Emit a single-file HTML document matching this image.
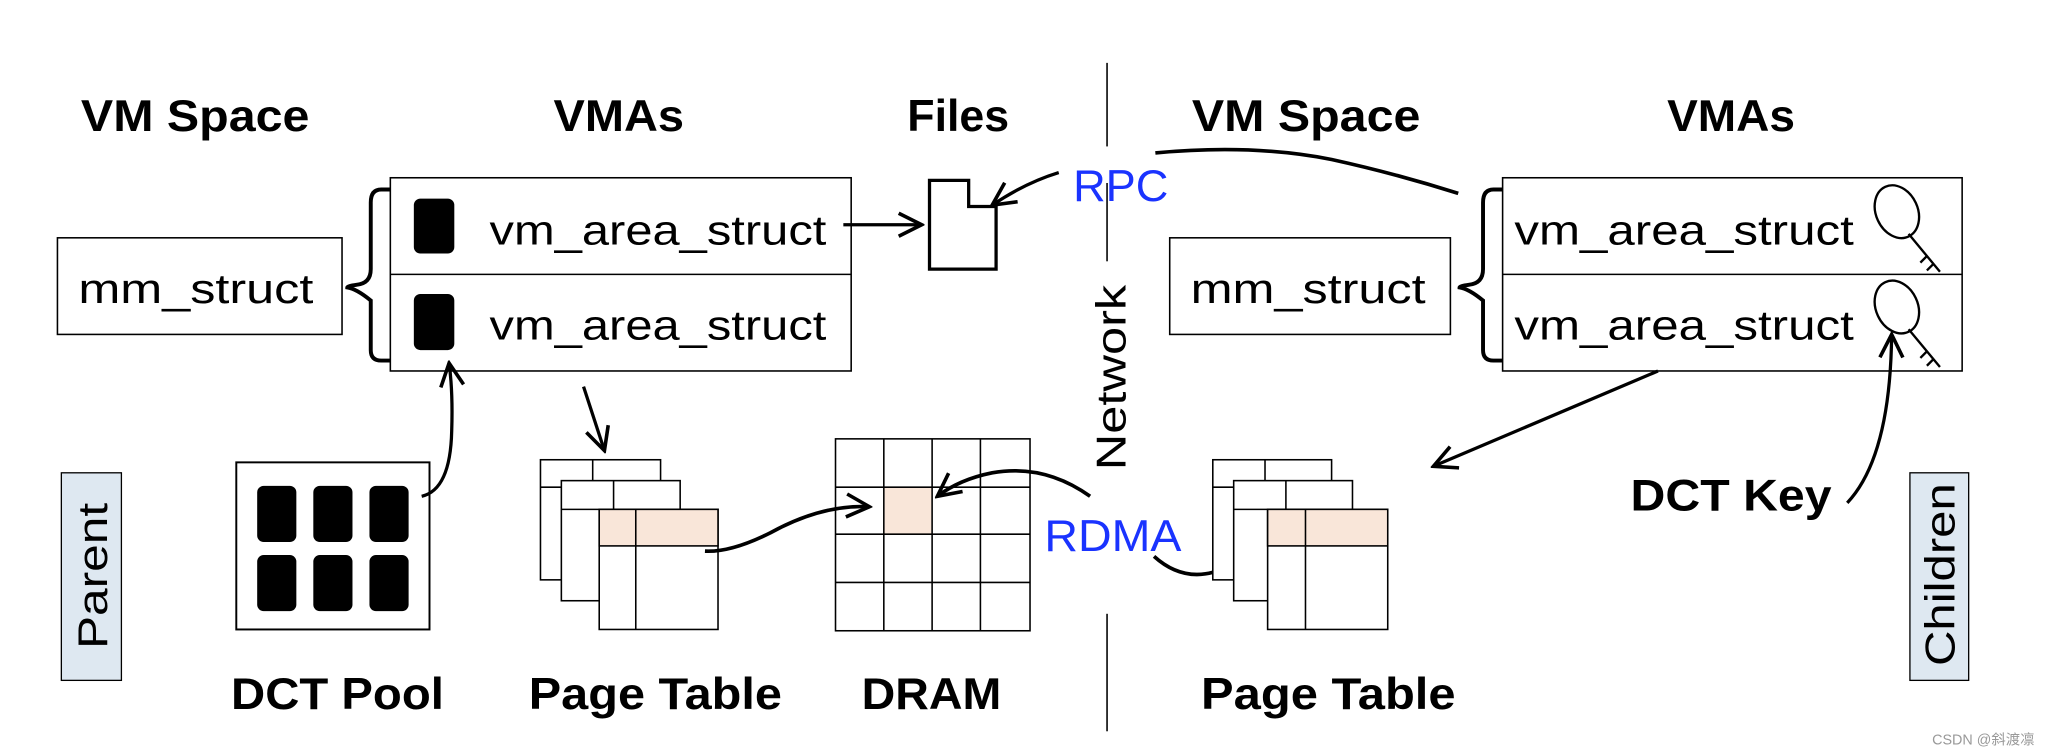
<!DOCTYPE html>
<html><head><meta charset="utf-8"><style>
html,body{margin:0;padding:0;background:#fff;}
svg{display:block;}
text{font-family:"Liberation Sans",sans-serif;}
</style></head><body>
<svg width="2047" height="755" viewBox="0 0 1568 578" xmlns="http://www.w3.org/2000/svg">
<defs>
<marker id="a" viewBox="0 0 20 20" refX="18" refY="10" markerWidth="22" markerHeight="22" markerUnits="userSpaceOnUse" orient="auto">
<path d="M2,2 L18,10 L2,18" fill="none" stroke="#000" stroke-width="2.5"/>
</marker>
</defs>
<g fill="#000" font-size="34" font-weight="bold">
<text x="62" y="100" textLength="175" lengthAdjust="spacingAndGlyphs">VM Space</text>
<text x="424" y="100" textLength="100" lengthAdjust="spacingAndGlyphs">VMAs</text>
<text x="695" y="100" textLength="78" lengthAdjust="spacingAndGlyphs">Files</text>
<text x="913" y="100" textLength="175" lengthAdjust="spacingAndGlyphs">VM Space</text>
<text x="1277" y="100" textLength="98" lengthAdjust="spacingAndGlyphs">VMAs</text>
<text x="177" y="543" textLength="163" lengthAdjust="spacingAndGlyphs">DCT Pool</text>
<text x="405" y="543" textLength="194" lengthAdjust="spacingAndGlyphs">Page Table</text>
<text x="660" y="543" textLength="107" lengthAdjust="spacingAndGlyphs">DRAM</text>
<text x="920" y="543" textLength="195" lengthAdjust="spacingAndGlyphs">Page Table</text>
<text x="1249" y="391" textLength="154" lengthAdjust="spacingAndGlyphs">DCT Key</text>
</g>
<g stroke="#000" stroke-width="1.2">
<line x1="848" y1="48" x2="848" y2="112"/>
<line x1="848" y1="140" x2="848" y2="200"/>
<line x1="848" y1="470" x2="848" y2="560"/>
</g>
<text transform="translate(862,360) rotate(-90)" font-size="32" textLength="142" lengthAdjust="spacingAndGlyphs">Network</text>
<rect x="44" y="182" width="218" height="74" fill="#fff" stroke="#000" stroke-width="1.2"/>
<text x="60" y="232" font-size="32" textLength="180" lengthAdjust="spacingAndGlyphs">mm_struct</text>
<path d="M299,145 H292 Q284,145 284,155 V206 Q284,217 273,218 Q266,219 266,220 Q273,221 284,230 V268 Q284,276 292,276 H299" fill="none" stroke="#000" stroke-width="3"/>
<rect x="299" y="136" width="353" height="148" fill="#fff" stroke="#000" stroke-width="1.2"/>
<line x1="299" y1="210" x2="652" y2="210" stroke="#000" stroke-width="1.2"/>
<rect x="317" y="152" width="31" height="42" rx="5" fill="#000"/>
<rect x="317" y="225" width="31" height="43" rx="5" fill="#000"/>
<text x="375" y="187" font-size="32" textLength="258" lengthAdjust="spacingAndGlyphs">vm_area_struct</text>
<text x="375" y="260" font-size="32" textLength="258" lengthAdjust="spacingAndGlyphs">vm_area_struct</text>
<line x1="646" y1="172" x2="706" y2="172" stroke="#000" stroke-width="2.5" marker-end="url(#a)"/>
<path d="M712,138 H742 V158 H763 V206 H712 Z" fill="#fff" stroke="#000" stroke-width="2.5"/>
<text x="822" y="154" font-size="34" fill="#1a33ff" textLength="73" lengthAdjust="spacingAndGlyphs">RPC</text>
<path d="M811,132 Q785,140 760,157" fill="none" stroke="#000" stroke-width="2.5" marker-end="url(#a)"/>
<path d="M885,117 Q960,110 1020,122 Q1070,133 1117,148" fill="none" stroke="#000" stroke-width="2.8"/>
<rect x="896" y="182" width="215" height="74" fill="#fff" stroke="#000" stroke-width="1.2"/>
<text x="912" y="232" font-size="32" textLength="180" lengthAdjust="spacingAndGlyphs">mm_struct</text>
<path d="M1151,145 H1144 Q1136,145 1136,155 V206 Q1136,217 1125,218 Q1118,219 1118,220 Q1125,221 1136,230 V268 Q1136,276 1144,276 H1151" fill="none" stroke="#000" stroke-width="3"/>
<rect x="1151" y="136" width="352" height="148" fill="#fff" stroke="#000" stroke-width="1.2"/>
<line x1="1151" y1="210" x2="1503" y2="210" stroke="#000" stroke-width="1.2"/>
<text x="1160" y="187" font-size="32" textLength="260" lengthAdjust="spacingAndGlyphs">vm_area_struct</text>
<text x="1160" y="260" font-size="32" textLength="260" lengthAdjust="spacingAndGlyphs">vm_area_struct</text>
<g fill="none" stroke="#000" stroke-width="1.8">
<ellipse cx="1453" cy="162" rx="16" ry="21" transform="rotate(-25 1453 162)"/>
<path d="M1462,179 L1486,208 M1476,196 L1471,201 M1481,202 L1476,207"/>
<ellipse cx="1453" cy="235" rx="16" ry="21" transform="rotate(-25 1453 235)"/>
<path d="M1462,252 L1486,281 M1476,269 L1471,274 M1481,275 L1476,280"/>
</g>
<rect x="181" y="354" width="148" height="128" fill="#fff" stroke="#000" stroke-width="1.5"/>
<g fill="#000">
<rect x="197" y="372" width="30" height="43" rx="5"/><rect x="240" y="372" width="30" height="43" rx="5"/><rect x="283" y="372" width="30" height="43" rx="5"/>
<rect x="197" y="425" width="30" height="43" rx="5"/><rect x="240" y="425" width="30" height="43" rx="5"/><rect x="283" y="425" width="30" height="43" rx="5"/>
</g>
<path d="M323,380 Q345,375 346,330 Q347,300 344,278" fill="none" stroke="#000" stroke-width="2.5" marker-end="url(#a)"/>
<line x1="447" y1="296" x2="463" y2="345" stroke="#000" stroke-width="2.5" marker-end="url(#a)"/>
<g stroke="#000" stroke-width="1.2" fill="#fff">
<rect x="414" y="352" width="92" height="92"/><line x1="414" y1="373" x2="506" y2="373"/><line x1="454" y1="352" x2="454" y2="444"/>
<rect x="430" y="368" width="91" height="92"/><line x1="430" y1="390" x2="521" y2="390"/><line x1="470" y1="368" x2="470" y2="460"/>
<rect x="459" y="390" width="91" height="92"/>
<rect x="459" y="390" width="91" height="28" fill="#f9e6d9"/>
<line x1="487" y1="390" x2="487" y2="482"/>
</g>
<path d="M540,422 Q560,423 590,408 Q630,386 666,388" fill="none" stroke="#000" stroke-width="2.8" marker-end="url(#a)"/>
<rect x="677" y="373" width="37" height="36" fill="#f9e6d9"/>
<g stroke="#000" stroke-width="1.2" fill="none">
<rect x="640" y="336" width="149" height="147"/>
<line x1="677" y1="336" x2="677" y2="483"/><line x1="714" y1="336" x2="714" y2="483"/><line x1="751" y1="336" x2="751" y2="483"/>
<line x1="640" y1="373" x2="789" y2="373"/><line x1="640" y1="409" x2="789" y2="409"/><line x1="640" y1="446" x2="789" y2="446"/>
</g>
<path d="M835,380 Q800,355 760,362 Q735,367 718,380" fill="none" stroke="#000" stroke-width="2.8" marker-end="url(#a)"/>
<text x="800" y="422" font-size="34" fill="#1a33ff" textLength="105" lengthAdjust="spacingAndGlyphs">RDMA</text>
<path d="M884,426 Q905,445 930,438 Q960,434 978,418" fill="none" stroke="#000" stroke-width="2.8"/>
<g stroke="#000" stroke-width="1.2" fill="#fff">
<rect x="929" y="352" width="91" height="92"/><line x1="929" y1="373" x2="1020" y2="373"/><line x1="969" y1="352" x2="969" y2="444"/>
<rect x="945" y="368" width="91" height="92"/><line x1="945" y1="390" x2="1036" y2="390"/><line x1="985" y1="368" x2="985" y2="460"/>
<rect x="971" y="390" width="92" height="92"/>
<rect x="971" y="390" width="92" height="28" fill="#f9e6d9"/>
<line x1="1000" y1="390" x2="1000" y2="482"/>
</g>
<line x1="1270" y1="284" x2="1098" y2="357" stroke="#000" stroke-width="2.5" marker-end="url(#a)"/>
<path d="M1415,385 Q1448,350 1449,256" fill="none" stroke="#000" stroke-width="2.5" marker-end="url(#a)"/>
<rect x="47" y="362" width="46" height="159" fill="#dee8f1" stroke="#000" stroke-width="1"/>
<text transform="translate(82,497) rotate(-90)" font-size="32" textLength="112" lengthAdjust="spacingAndGlyphs">Parent</text>
<rect x="1463" y="362" width="45" height="159" fill="#dee8f1" stroke="#000" stroke-width="1"/>
<text transform="translate(1497,510) rotate(-90)" font-size="32" textLength="140" lengthAdjust="spacingAndGlyphs">Children</text>
<text x="1480" y="570" font-size="11" fill="#999" font-family="'Liberation Sans','Noto Sans CJK SC',sans-serif">CSDN @斜渡凛</text>
</svg>
</body></html>
